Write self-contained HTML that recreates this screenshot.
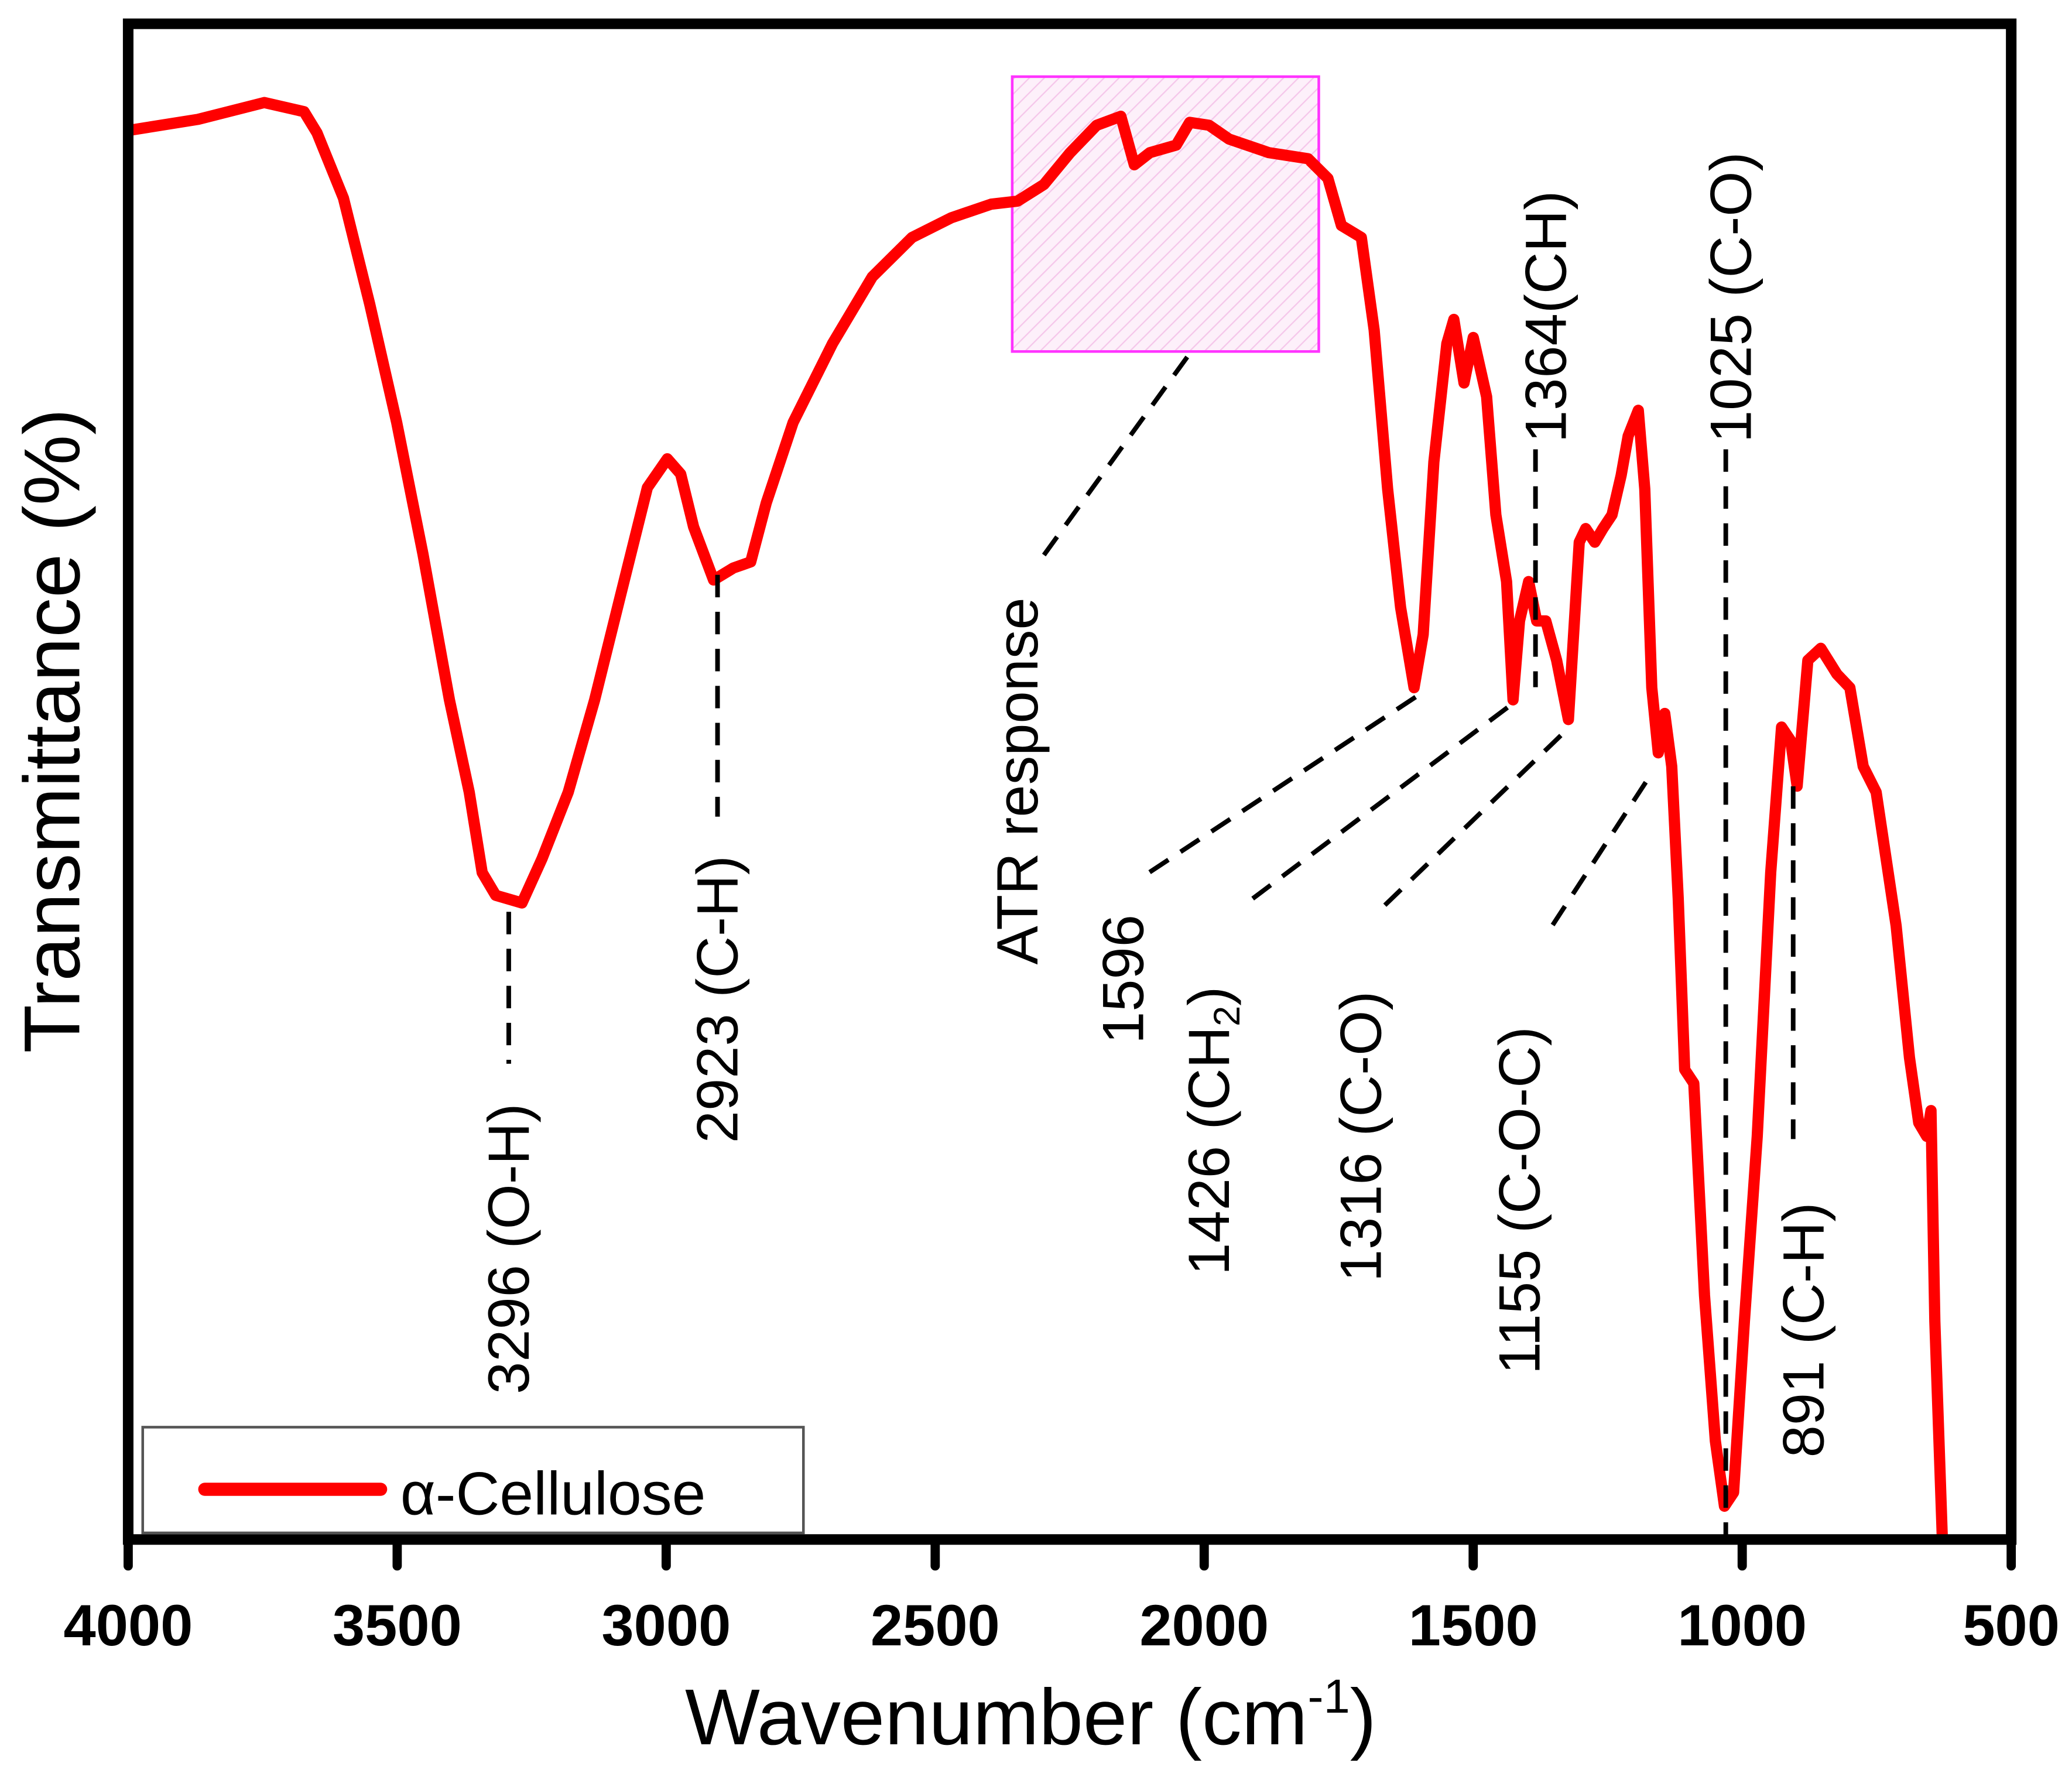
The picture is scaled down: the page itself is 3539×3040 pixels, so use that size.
<!DOCTYPE html>
<html><head><meta charset="utf-8"><style>
html,body{margin:0;padding:0;background:#fff;}
svg{display:block;}
text{font-family:"Liberation Sans",Arial,sans-serif;fill:#000;}
</style></head><body>
<svg id="chart" width="3539" height="3040" viewBox="0 0 1568 1347" preserveAspectRatio="none" xmlns="http://www.w3.org/2000/svg">
<defs>
<pattern id="hatch" width="8" height="8" patternUnits="userSpaceOnUse" patternTransform="rotate(45)">
<rect width="8" height="8" fill="#fdf0fa"/>
<line x1="0" y1="0" x2="0" y2="8" stroke="#f5c6ea" stroke-width="2"/>
</pattern>
</defs>
<rect x="766" y="58" width="232" height="208" fill="url(#hatch)" stroke="#ff33ff" stroke-width="2"/>
<g id="curve"></g>
<g id="ann" stroke="#000" stroke-width="3.5" stroke-dasharray="17,11" fill="none">
<line x1="385" y1="690" x2="385" y2="805"/>
<line x1="543" y1="435" x2="543" y2="618"/>
<line x1="790" y1="420" x2="900" y2="268"/>
<line x1="870" y1="660" x2="1072" y2="527"/>
<line x1="948" y1="680" x2="1148" y2="530"/>
<line x1="1048" y1="685" x2="1188" y2="550"/>
<line x1="1175" y1="700" x2="1250" y2="585"/>
<line x1="1162" y1="340" x2="1162" y2="520"/>
<line x1="1306" y1="340" x2="1306" y2="1165"/>
<line x1="1357" y1="595" x2="1357" y2="862"/>
</g>
<g font-size="44">
<text transform="translate(400,1055) rotate(-90)">3296 (O-H)</text>
<text transform="translate(558,865) rotate(-90)">2923 (C-H)</text>
<text transform="translate(785,730) rotate(-90)">ATR response</text>
<text transform="translate(865,790) rotate(-90)">1596</text>
<text transform="translate(930,965) rotate(-90)">1426 (CH<tspan font-size="28" dy="8">2</tspan><tspan dy="-8">)</tspan></text>
<text transform="translate(1045,970) rotate(-90)">1316 (C-O)</text>
<text transform="translate(1165,1040) rotate(-90)">1155 (C-O-C)</text>
<text transform="translate(1185,335) rotate(-90)">1364(CH)</text>
<text transform="translate(1325,335) rotate(-90)">1025 (C-O)</text>
<text transform="translate(1380,1103) rotate(-90)">891 (C-H)</text>
</g>
<rect x="97" y="18" width="1425" height="1147" fill="none" stroke="#000" stroke-width="8"/>
<g id="xaxis"></g>
<text x="780" y="1320" font-size="60" text-anchor="middle">Wavenumber (cm<tspan font-size="36" dy="-24">-1</tspan><tspan dy="24">)</tspan></text>
<text transform="translate(60,553) rotate(-90)" font-size="60" text-anchor="middle">Transmittance (%)</text>
<g>
<rect x="108" y="1080" width="500" height="80" fill="#fff" stroke="#555" stroke-width="2"/>
<line x1="155" y1="1127" x2="288" y2="1127" stroke="#ff0000" stroke-width="10" stroke-linecap="round"/>
<text x="303" y="1146" font-size="46">α-Cellulose</text>
</g>
</svg>
<script>
const wavenumbers=[3993,3870,3747,3673,3649,3600,3551,3501,3452,3403,3366,3342,3317,3268,3231,3182,3133,3084,3035,2998,2973,2949,2912,2875,2843,2814,2764,2691,2617,2543,2470,2396,2347,2298,2249,2200,2155,2130,2101,2052,2027,1991,1954,1880,1807,1770,1745,1708,1684,1659,1635,1610,1593,1573,1549,1536,1517,1500,1475,1458,1438,1426,1414,1397,1382,1365,1345,1323,1303,1291,1274,1259,1242,1225,1212,1193,1181,1168,1156,1144,1131,1119,1107,1090,1070,1050,1033,1016,996,972,947,927,910,898,878,854,824,800,775,751,714,689,672,657,649,642,628];
const transmittance=[93.0,93.7,94.8,94.2,92.8,88.5,81.5,73.7,65.0,55.4,49.3,44.0,42.5,42.0,44.9,49.3,55.4,62.4,69.4,71.3,70.3,66.8,63.3,64.1,64.5,68.4,73.7,78.9,83.3,85.9,87.2,88.1,88.3,89.4,91.5,93.3,93.9,90.7,91.5,92.0,93.5,93.3,92.4,91.5,91.1,89.8,86.7,85.9,79.8,69.3,61.5,56.2,59.7,71.1,78.9,80.5,76.3,79.3,75.4,67.6,63.2,55.4,60.6,63.2,60.6,60.6,58.0,54.1,65.8,66.7,65.8,66.7,67.6,70.2,72.8,74.5,69.3,56.2,51.9,54.5,51.0,42.3,31.0,30.1,16.1,6.5,2.2,3.1,14.4,26.6,44.0,53.6,52.7,49.7,58.0,58.8,57.1,56.2,51.0,49.3,40.5,31.8,27.5,26.6,28.3,14.4,0];
const xTicks=[4000,3500,3000,2500,2000,1500,1000,500];
const NS="http://www.w3.org/2000/svg";
function xs(w){return 97+(4000-w)*1425/3500;}
function ys(t){return 1165-t*11.47;}
const g=document.getElementById('curve');
const p=document.createElementNS(NS,'path');
p.setAttribute('d',wavenumbers.map((w,i)=>(i?'L':'M')+xs(w).toFixed(1)+','+ys(transmittance[i]).toFixed(1)).join(''));
p.setAttribute('fill','none');p.setAttribute('stroke','#ff0000');p.setAttribute('stroke-width','8.5');p.setAttribute('stroke-linejoin','round');


g.appendChild(p);
const xa=document.getElementById('xaxis');
xTicks.forEach(v=>{
 const l=document.createElementNS(NS,'line');
 l.setAttribute('x1',xs(v));l.setAttribute('x2',xs(v));l.setAttribute('y1',1165);l.setAttribute('y2',1185);
 l.setAttribute('stroke','#000');l.setAttribute('stroke-width','7');l.setAttribute('stroke-linecap','round');
 
 
 xa.appendChild(l);
 const t=document.createElementNS(NS,'text');
 t.setAttribute('x',xs(v));t.setAttribute('y',1245);t.setAttribute('text-anchor','middle');
 t.setAttribute('font-size','44');t.setAttribute('font-weight','bold');
 t.textContent=v;
 
 
 xa.appendChild(t);
});
</script>
</body></html>
